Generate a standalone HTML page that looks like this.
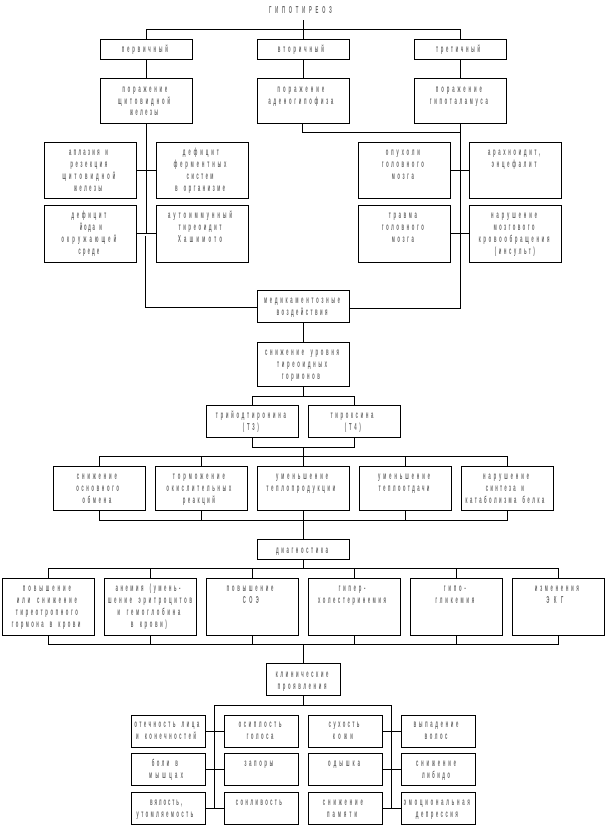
<!DOCTYPE html>
<html lang="ru"><head><meta charset="utf-8"><title>Гипотиреоз</title>
<style>
html,body{margin:0;padding:0;background:#fff}
svg{display:block;position:absolute;left:0;top:0}
rect{fill:#fff;stroke:#000;stroke-width:1}
path{fill:none;stroke:#000;stroke-width:1}
text{font-family:"Liberation Sans",sans-serif;font-size:10.5px;font-weight:bold;fill:#6a6a6a;text-anchor:middle}
</style></head><body>
<svg width="605" height="826" viewBox="0 0 605 826" shape-rendering="crispEdges">
<path d="M303.5 20V39.5M146.5 39.5V29.5H460.5V39.5M146.5 59.5V78.5M303.5 59.5V78.5M460.5 59.5V78.5
M146.5 123V233.5M145.5 236V307.5H257.5M136.5 170.5H156.5M136.5 233.5H156.5
M302.5 123V132.5H460.5M460.5 123V308.5H349.5M450.5 170.5H469.5M450.5 233.5H469.5
M303.5 322.5V342.5M303.5 386.5V396.5M252.5 405.5V396.5H354.5V405.5M252.5 437.5V447.5H354.5V437.5
M303.5 447.5V466.5M99.5 466.5V456.5H507.5V466.5M201.5 456.5V466.5M405.5 456.5V466.5
M99.5 510.5V520.5H507.5V510.5M201.5 510.5V520.5M303.5 510.5V539.5M405.5 510.5V520.5
M303.5 559.5V568.5M48.5 578.5V568.5H558.5V578.5M150.5 568.5V578.5M252.5 568.5V578.5M354.5 568.5V578.5M456.5 568.5V578.5
M48.5 635.5V644.5H558.5V635.5M150.5 635.5V644.5M252.5 635.5V644.5M354.5 635.5V644.5M456.5 635.5V644.5
M303.5 644.5V663.5M303.5 695.5V705.5M214.5 808.5V705.5H391.5V808.5
M205.5 731.5H224.5M205.5 769.5H224.5M205.5 808.5H224.5M382.5 731.5H401.5M382.5 769.5H401.5M382.5 808.5H401.5"/>
<rect x="100.5" y="39.5" width="92" height="20"/><rect x="257.5" y="39.5" width="92" height="20"/><rect x="414.5" y="39.5" width="92" height="20"/>
<rect x="100.5" y="78.5" width="92" height="45"/><rect x="257.5" y="78.5" width="92" height="45"/><rect x="414.5" y="78.5" width="92" height="45"/>
<rect x="44.5" y="142.5" width="92" height="56"/><rect x="156.5" y="142.5" width="92" height="56"/><rect x="358.5" y="142.5" width="92" height="56"/><rect x="469.5" y="142.5" width="92" height="56"/>
<rect x="44.5" y="205.5" width="92" height="57"/><rect x="156.5" y="205.5" width="92" height="57"/><rect x="358.5" y="205.5" width="92" height="57"/><rect x="469.5" y="205.5" width="92" height="57"/>
<rect x="257.5" y="290.5" width="92" height="32"/><rect x="257.5" y="342.5" width="92" height="44"/>
<rect x="206.5" y="405.5" width="92" height="32"/><rect x="308.5" y="405.5" width="92" height="32"/>
<rect x="53.5" y="466.5" width="92" height="44"/><rect x="155.5" y="466.5" width="92" height="44"/><rect x="257.5" y="466.5" width="92" height="44"/><rect x="359.5" y="466.5" width="92" height="44"/><rect x="461.5" y="466.5" width="92" height="44"/>
<rect x="257.5" y="539.5" width="92" height="20"/>
<rect x="2.5" y="578.5" width="92" height="57"/><rect x="104.5" y="578.5" width="92" height="57"/><rect x="206.5" y="578.5" width="92" height="57"/><rect x="308.5" y="578.5" width="92" height="57"/><rect x="410.5" y="578.5" width="92" height="57"/><rect x="512.5" y="578.5" width="92" height="57"/>
<rect x="266.5" y="663.5" width="74" height="32"/>
<rect x="131.5" y="715.5" width="74" height="32"/><rect x="224.5" y="715.5" width="74" height="32"/><rect x="308.5" y="715.5" width="74" height="32"/><rect x="401.5" y="715.5" width="74" height="32"/>
<rect x="131.5" y="753.5" width="74" height="32"/><rect x="224.5" y="753.5" width="74" height="32"/><rect x="308.5" y="753.5" width="74" height="32"/><rect x="401.5" y="753.5" width="74" height="32"/>
<rect x="131.5" y="792.5" width="74" height="32"/><rect x="224.5" y="792.5" width="74" height="32"/><rect x="308.5" y="792.5" width="74" height="32"/><rect x="401.5" y="792.5" width="74" height="32"/>
</svg>
<svg width="605" height="826" viewBox="0 0 1512.5 826" preserveAspectRatio="none">
<text x="751" y="13" textLength="157">ГИПОТИРЕОЗ</text>
<text x="362" y="52" textLength="115">первичный</text>
<text x="752" y="52" textLength="115">вторичный</text>
<text x="1145" y="52" textLength="110">третичный</text>
<text x="362" y="92" textLength="112">поражение</text>
<text x="360" y="104" textLength="130">щитовидной</text>
<text x="360" y="115" textLength="70">железы</text>
<text x="752" y="92" textLength="117">поражение</text>
<text x="752" y="104" textLength="162">аденогипофиза</text>
<text x="1147" y="92" textLength="115">поражение</text>
<text x="1147" y="104" textLength="145">гипоталамуса</text>
<text x="221" y="155" textLength="97">аплазия и</text>
<text x="222" y="167" textLength="92">резекция</text>
<text x="222" y="179" textLength="132">щитовидной</text>
<text x="220" y="191" textLength="70">железы</text>
<text x="502" y="155" textLength="90">дефицит</text>
<text x="500" y="167" textLength="132">ферментных</text>
<text x="500" y="179" textLength="67">систем</text>
<text x="500" y="191" textLength="125">в организме</text>
<text x="1007" y="155" textLength="85">опухоли</text>
<text x="1007" y="167" textLength="105">головного</text>
<text x="1007" y="179" textLength="55">мозга</text>
<text x="1285" y="155" textLength="130">арахноидит,</text>
<text x="1285" y="167" textLength="112">энцефалит</text>
<text x="222" y="218" textLength="87">дефицит</text>
<text x="227" y="230" textLength="55">йода и</text>
<text x="222" y="242" textLength="137">окружающей</text>
<text x="222" y="254" textLength="52">среде</text>
<text x="500" y="218" textLength="160">аутоиммунный</text>
<text x="500" y="230" textLength="107">тиреоидит</text>
<text x="500" y="242" textLength="110">Хашимото</text>
<text x="1007" y="218" textLength="70">травма</text>
<text x="1007" y="230" textLength="105">головного</text>
<text x="1007" y="242" textLength="55">мозга</text>
<text x="1285" y="218" textLength="115">нарушение</text>
<text x="1285" y="230" textLength="102">мозгового</text>
<text x="1285" y="242" textLength="177">кровообращения</text>
<text x="1287" y="254" textLength="100">(инсульт)</text>
<text x="755" y="303" textLength="190">медикаментозные</text>
<text x="755" y="315" textLength="127">воздействия</text>
<text x="755" y="355" textLength="185">снижение уровня</text>
<text x="755" y="367" textLength="125">тиреоидных</text>
<text x="752" y="379" textLength="95">гормонов</text>
<text x="627" y="418" textLength="175">трийодтиронина</text>
<text x="627" y="430" textLength="40">(Т3)</text>
<text x="880" y="418" textLength="107">тироксина</text>
<text x="882" y="430" textLength="40">(Т4)</text>
<text x="242" y="479" textLength="100">снижение</text>
<text x="244" y="491" textLength="107">основного</text>
<text x="242" y="503" textLength="72">обмена</text>
<text x="497" y="479" textLength="130">торможение</text>
<text x="497" y="491" textLength="162">окислительных</text>
<text x="497" y="503" textLength="80">реакций</text>
<text x="755" y="479" textLength="130">уменьшение</text>
<text x="752" y="491" textLength="172">теплопродукции</text>
<text x="1010" y="479" textLength="130">уменьшение</text>
<text x="1010" y="491" textLength="127">теплоотдачи</text>
<text x="1265" y="479" textLength="115">нарушение</text>
<text x="1262" y="491" textLength="95">синтеза и</text>
<text x="1262" y="503" textLength="197">катаболизма белка</text>
<text x="755" y="553" textLength="130">диагностика</text>
<text x="117" y="591" textLength="120">повышение</text>
<text x="117" y="603" textLength="150">или снижение</text>
<text x="117" y="615" textLength="155">тиреотропного</text>
<text x="115" y="627" textLength="172">гормона в крови</text>
<text x="370" y="591" textLength="162">анемия (умень-</text>
<text x="375" y="603" textLength="210">шение эритроцитов</text>
<text x="372" y="615" textLength="157">и гемоглобина</text>
<text x="372" y="627" textLength="90">в крови)</text>
<text x="625" y="591" textLength="117">повышение</text>
<text x="627" y="603" textLength="40">СОЭ</text>
<text x="880" y="591" textLength="67">гипер-</text>
<text x="880" y="603" textLength="170">холестеринемия</text>
<text x="1137" y="591" textLength="55">гипо-</text>
<text x="1137" y="603" textLength="97">гликемия</text>
<text x="1392" y="591" textLength="110">изменения</text>
<text x="1387" y="603" textLength="42">ЭКГ</text>
<text x="755" y="677" textLength="132">клинические</text>
<text x="755" y="689" textLength="122">проявления</text>
<text x="417" y="727" textLength="162">отечность лица</text>
<text x="415" y="739" textLength="150">и конечностей</text>
<text x="650" y="727" textLength="107">осиплость</text>
<text x="650" y="739" textLength="67">голоса</text>
<text x="860" y="727" textLength="77">сухость</text>
<text x="857" y="739" textLength="50">кожи</text>
<text x="1090" y="727" textLength="112">выпадение</text>
<text x="1090" y="739" textLength="57">волос</text>
<text x="412" y="766" textLength="65">боли в</text>
<text x="415" y="778" textLength="85">мышцах</text>
<text x="647" y="766" textLength="72">запоры</text>
<text x="860" y="766" textLength="80">одышка</text>
<text x="1090" y="766" textLength="100">снижение</text>
<text x="1090" y="778" textLength="70">либидо</text>
<text x="415" y="805" textLength="80">вялость,</text>
<text x="412" y="817" textLength="142">утомляемость</text>
<text x="647" y="805" textLength="115">сонливость</text>
<text x="857" y="805" textLength="100">снижение</text>
<text x="855" y="817" textLength="75">памяти</text>
<text x="1092" y="805" textLength="165">эмоциональная</text>
<text x="1092" y="817" textLength="105">депрессия</text>
</svg>
</body></html>
